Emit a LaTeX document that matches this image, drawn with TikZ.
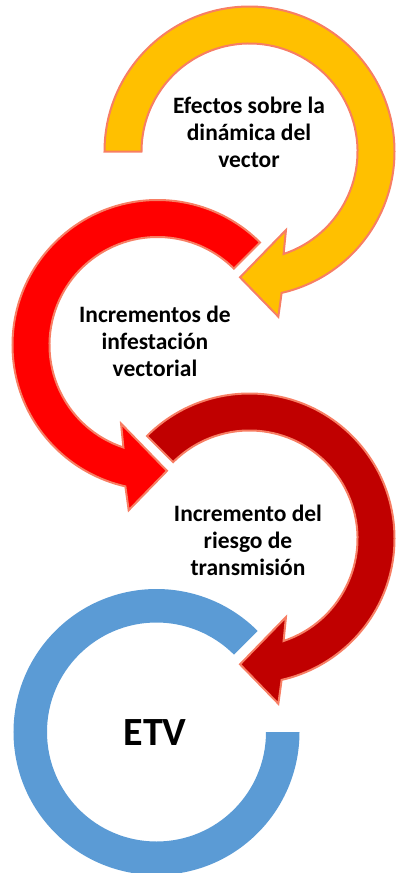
\documentclass[tikz,border=0pt]{standalone}
\usepackage{fontspec}
\setmainfont{Carlito}
\usepackage{tikz}
\usetikzlibrary{%
	calc,%
	positioning
}

\definecolor{etvyellow}{RGB}{255,192,0}
\definecolor{etvred}{RGB}{255,0,0}
\definecolor{etvdarkred}{RGB}{192,0,0}
\definecolor{etvblue}{RGB}{91,155,213}
\definecolor{etvline}{RGB}{247,126,100}

\tikzset{
	ringarrow/.style={draw=etvline,line width=2pt,line join=miter},
	steptext/.style={align=center,font=\bfseries\fontsize{23.5}{27}\selectfont,inner sep=0pt},
	etvtext/.style={font=\bfseries\fontsize{40}{44}\selectfont,inner sep=0pt}
}

\begin{document}
\begin{tikzpicture}[x=1pt,y=1pt]
			\useasboundingbox (0,0) rectangle (398,-873);
			
			% Yellow arrow
			\begin{scope}[shift={(249.5,-151.5)}]
				\filldraw[ringarrow,fill=etvyellow] (180:145) arc[start angle=180,end angle=-77.2,radius=145pt]
					-- (-80.1:167.7) -- (-94.3:126.2) -- (-65.1:86.6) -- (-71.6:108)
					arc[start angle=-71.6,end angle=180,radius=108pt] -- cycle;
			\end{scope}
			\node[steptext] (efectos) at (249,-132) {Efectos sobre la\\din\'amica del\\vector};
			
			% Red arrow
			\begin{scope}[shift={(157.5,-345)}]
				\filldraw[ringarrow,fill=etvred] (45:145) arc[start angle=45,end angle=257.2,radius=145pt]
					-- (260.1:167.7) -- (274.3:126.2) -- (245.1:86.6) -- (251.6:108)
					arc[start angle=251.6,end angle=45,radius=108pt] -- cycle;
			\end{scope}
			\node[steptext] (infestacion) at (155,-341) {Incrementos de\\infestaci\'on\\vectorial};
			
			% Dark red arrow
			\begin{scope}[shift={(249.5,-538.5)}]
				\filldraw[ringarrow,fill=etvdarkred] (135:145) arc[start angle=135,end angle=-77.2,radius=145pt]
					-- (-80.1:167.7) -- (-94.3:126.2) -- (-65.1:86.6) -- (-71.6:108)
					arc[start angle=-71.6,end angle=135,radius=108pt] -- cycle;
			\end{scope}
			\node[steptext] (riesgo) at (248,-540) {Incremento del\\riesgo de\\transmisi\'on};
			
			% Blue ring
			\begin{scope}[shift={(156.5,-732)}]
				\fill[etvblue] (45:143) arc[start angle=45,end angle=360,radius=143pt]
					-- (0:109.5) arc[start angle=360,end angle=45,radius=109.5pt] -- cycle;
			\end{scope}
			\node[etvtext] (etv) at (155,-733) {ETV};
		\end{tikzpicture}
\end{document}
